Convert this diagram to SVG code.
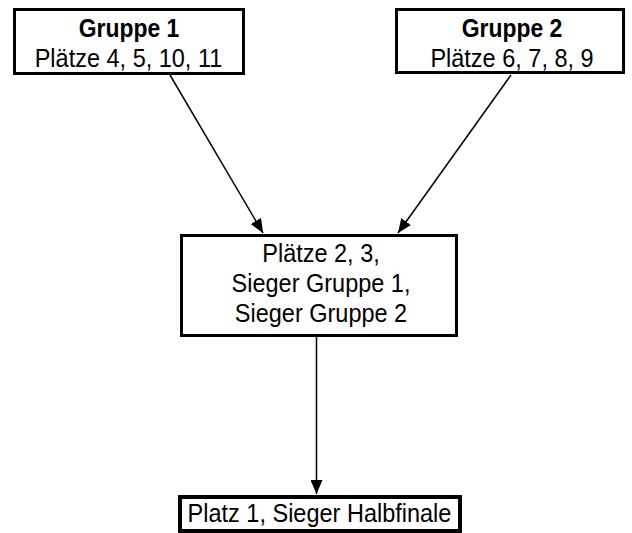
<svg xmlns="http://www.w3.org/2000/svg" width="632" height="533" viewBox="0 0 632 533">
  <defs>
    <marker id="arrow" markerUnits="userSpaceOnUse" markerWidth="15" markerHeight="12" refX="14" refY="6" orient="auto">
      <path d="M0,0 L14,6 L0,12 Z" fill="#000"/>
    </marker>
    <style>
      .box { fill: #fff; stroke: #000; stroke-width: 3; }
      .t { font-family: "Liberation Sans", Arial, sans-serif; font-size: 26.5px; fill: #000; text-anchor: middle; }
      .b { font-weight: bold; }
      .edge { stroke: #000; stroke-width: 1.5; fill: none; marker-end: url(#arrow); }
    </style>
  </defs>
  <rect width="632" height="533" fill="#fff"/>
  <g id="connectors">
    <line class="edge" x1="170" y1="75" x2="263" y2="233"/>
    <line class="edge" x1="511" y1="75" x2="398" y2="233"/>
    <line class="edge" x1="316.5" y1="337" x2="316.5" y2="494"/>
  </g>
  <g id="gruppe1">
    <rect class="box" x="14.5" y="9.5" width="229" height="64"/>
    <text class="t b" transform="translate(129,37) scale(0.864,1)">Gruppe 1</text>
    <text class="t" transform="translate(128.5,67) scale(0.887,1)">Plätze 4, 5, 10, 11</text>
  </g>
  <g id="gruppe2">
    <rect class="box" x="396.5" y="9.5" width="227" height="63"/>
    <text class="t b" transform="translate(512,37) scale(0.864,1)">Gruppe 2</text>
    <text class="t" transform="translate(512,67) scale(0.887,1)">Plätze 6, 7, 8, 9</text>
  </g>
  <g id="mitte">
    <rect class="box" x="181.5" y="235.5" width="275" height="100"/>
    <text class="t" transform="translate(321,262) scale(0.887,1)">Plätze 2, 3,</text>
    <text class="t" transform="translate(321,292) scale(0.887,1)">Sieger Gruppe 1,</text>
    <text class="t" transform="translate(321,322) scale(0.887,1)">Sieger Gruppe 2</text>
  </g>
  <g id="platz1">
    <rect class="box" x="180" y="497" width="280" height="34" style="stroke-width:4"/>
    <text class="t" transform="translate(319.5,522) scale(0.887,1)">Platz 1, Sieger Halbfinale</text>
  </g>
</svg>
